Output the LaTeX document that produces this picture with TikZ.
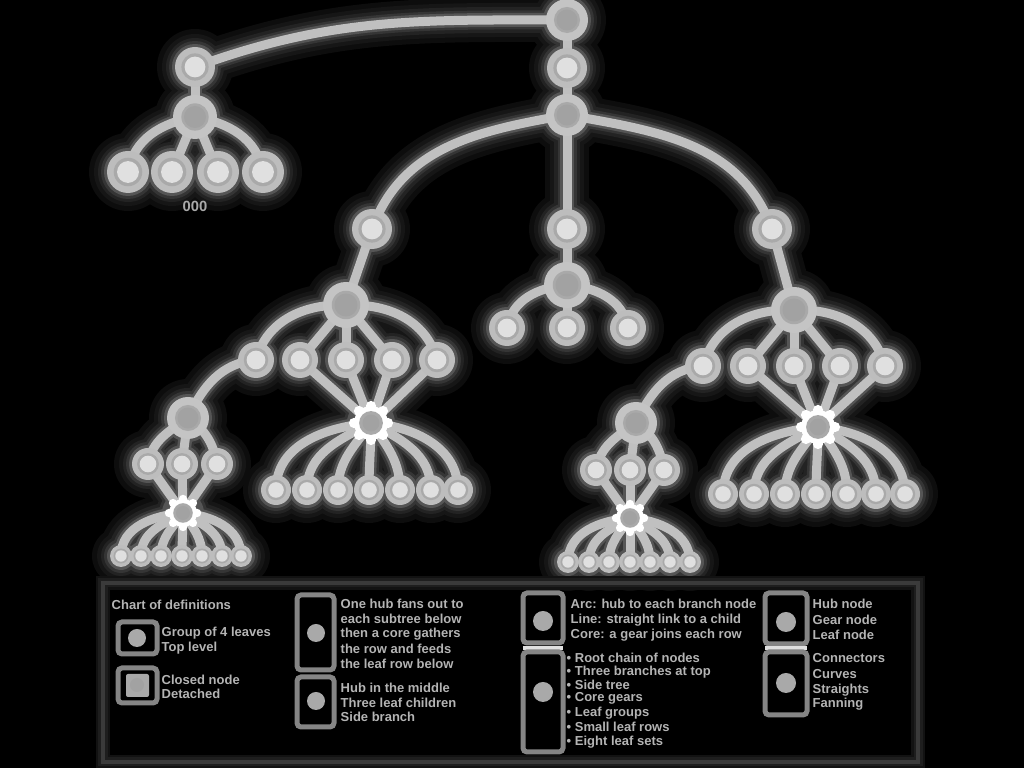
\documentclass[tikz,border=0pt]{standalone}
\usepackage{fontspec}
\setsansfont{Liberation Sans}
\definecolor{edgec}{HTML}{C0C0C0}
\definecolor{nodec}{HTML}{BDBDBD}
\definecolor{ringc}{HTML}{A9A9A9}
\definecolor{cenc}{HTML}{E0E0E0}
\definecolor{hubc}{HTML}{C4C4C4}
\definecolor{hubin}{HTML}{A2A2A2}
\definecolor{legc}{HTML}{3A3A3A}
\definecolor{boxc}{HTML}{858585}
\definecolor{txtc}{HTML}{B4B4B4}
\def\pxu{0.2845pt}
\tikzset{
  e/.style={line width=9*\pxu, draw=edgec, line cap=round},
  lbox/.style={draw=boxc, line width=5*\pxu, rounded corners=4*\pxu, fill=black},
  ltxt/.style={anchor=west, inner sep=0pt, text=txtc, font=\sffamily\bfseries\fontsize{3.7}{4.3}\selectfont},
}
\newcommand\AllEdges{%
  \draw[e] (L1) to[out=20,in=180] (R1);
  \draw[e] (R1) -- (R2) -- (R3);
  \draw[e] (L1) -- (L2);
  \draw[e] (L2) to[out=190,in=80] (T1);
  \draw[e] (L2) -- (T2);
  \draw[e] (L2) -- (T3);
  \draw[e] (L2) to[out=-10,in=100] (T4);
  \draw[e] (R3) to[out=190,in=70] (A);
  \draw[e] (R3) -- (B);
  \draw[e] (R3) to[out=-10,in=110] (C);
  \draw[e] (B) -- (Bh);
  \draw[e] (Bh) to[out=185,in=80] (b1);
  \draw[e] (Bh) -- (b2);
  \draw[e] (Bh) to[out=-5,in=100] (b3);
  % left block
  \draw[e] (A) -- (Ah);
  \draw[e] (Ah) to[out=178,in=75] (a1);
  \draw[e] (Ah) -- (a2);
  \draw[e] (Ah) -- (a3);
  \draw[e] (Ah) -- (a4);
  \draw[e] (Ah) to[out=2,in=105] (a5);
  \foreach \i in {2,...,5} {\draw[e] (a\i) -- (Ag);}
  \foreach \i/\o in {1/185,2/208,3/235,4/270,5/305,6/332,7/355} {\draw[e] (Ag) to[out=\o,in=90] (aL\i);}
  \draw[e] (a1) to[out=185,in=65] (Dh);
  \draw[e] (Dh) to[out=215,in=80] (d1);
  \draw[e] (Dh) -- (d2);
  \draw[e] (Dh) to[out=-35,in=100] (d3);
  \foreach \i in {1,2,3} {\draw[e] (d\i) -- (Dg);}
  \foreach \i/\o in {1/185,2/208,3/235,4/270,5/305,6/332,7/355} {\draw[e] (Dg) to[out=\o,in=90] (dL\i);}
  % right block
  \draw[e] (C) -- (Ch);
  \draw[e] (Ch) to[out=178,in=75] (c1);
  \draw[e] (Ch) -- (c2);
  \draw[e] (Ch) -- (c3);
  \draw[e] (Ch) -- (c4);
  \draw[e] (Ch) to[out=2,in=105] (c5);
  \foreach \i in {2,...,5} {\draw[e] (c\i) -- (Cg);}
  \foreach \i/\o in {1/185,2/208,3/235,4/270,5/305,6/332,7/355} {\draw[e] (Cg) to[out=\o,in=90] (cL\i);}
  \draw[e] (c1) to[out=185,in=65] (Eh);
  \draw[e] (Eh) to[out=215,in=80] (e1);
  \draw[e] (Eh) -- (e2);
  \draw[e] (Eh) to[out=-35,in=100] (e3);
  \foreach \i in {1,2,3} {\draw[e] (e\i) -- (Eg);}
  \foreach \i/\o in {1/185,2/208,3/235,4/270,5/305,6/332,7/355} {\draw[e] (Eg) to[out=\o,in=90] (eL\i);}
}
\def\PlainList{R2/20,L1/20,T1/21,T2/21,T3/21,T4/21,A/20,B/20,C/20,a1/18,a2/18,a3/18,a4/18,a5/18,c1/18,c2/18,c3/18,c4/18,c5/18,b1/18,b2/18,b3/18,d1/16,d2/16,d3/16,e1/16,e2/16,e3/16,aL1/15,aL2/15,aL3/15,aL4/15,aL5/15,aL6/15,aL7/15,cL1/15,cL2/15,cL3/15,cL4/15,cL5/15,cL6/15,cL7/15,dL1/11,dL2/11,dL3/11,dL4/11,dL5/11,dL6/11,dL7/11,eL1/11,eL2/11,eL3/11,eL4/11,eL5/11,eL6/11,eL7/11}
\def\HubList{R1/21,R3/21,L2/22,Ah/23,Bh/23,Ch/23,Dh/21,Eh/21}
\def\GearList{Ag/17,Cg/17,Dg/14,Eg/14}
\begin{document}
\begin{tikzpicture}[x=0.01cm,y=-0.01cm]
\fill[black] (0,0) rectangle (1024,768);
\useasboundingbox (0,0) rectangle (1024,768);
% ---------- coordinates (nodes) ----------
\coordinate (R1) at (567,20);
\coordinate (R2) at (567,68);
\coordinate (R3) at (567,115);
\coordinate (L1) at (195,67);
\coordinate (L2) at (195,117);
\coordinate (T1) at (128,172);
\coordinate (T2) at (172,172);
\coordinate (T3) at (218,172);
\coordinate (T4) at (263,172);
\coordinate (A) at (372,229);
\coordinate (B) at (567,229);
\coordinate (C) at (772,229);
\coordinate (Bh) at (567,285);
\coordinate (b1) at (507,328);
\coordinate (b2) at (567,328);
\coordinate (b3) at (628,328);
\coordinate (Ah) at (346,305);
\foreach \i/\x in {1/256,2/300,3/346,4/392,5/437} {\coordinate (a\i) at (\x,360);}
\coordinate (Ag) at (371,423);
\foreach \i/\x in {1/276,2/307,3/338,4/369,5/400,6/431,7/458} {\coordinate (aL\i) at (\x,490);}
\coordinate (Dh) at (188,418);
\foreach \i/\x in {1/148,2/182,3/217} {\coordinate (d\i) at (\x,464);}
\coordinate (Dg) at (183,513);
\foreach \i/\x in {1/121,2/141,3/161,4/182,5/202,6/222,7/241} {\coordinate (dL\i) at (\x,556);}
\coordinate (Ch) at (794,310);
\foreach \i/\x in {1/703,2/748,3/794,4/840,5/885} {\coordinate (c\i) at (\x,366);}
\coordinate (Cg) at (818,427);
\foreach \i/\x in {1/723,2/754,3/785,4/816,5/847,6/876,7/905} {\coordinate (cL\i) at (\x,494);}
\coordinate (Eh) at (636,423);
\foreach \i/\x in {1/596,2/630,3/664} {\coordinate (e\i) at (\x,470);}
\coordinate (Eg) at (630,518);
\foreach \i/\x in {1/568,2/589,3/609,4/630,5/650,6/670,7/690} {\coordinate (eL\i) at (\x,562);}
% ---------- glow (solid shades, layered) ----------
\foreach \w/\d/\c in {44/18/0D0D0D,34/13/161616,26/9/232323,19/6/353535,14/3/555555} {
  \definecolor{gl}{HTML}{\c}
  \tikzset{e/.style={line width=\w*\pxu, draw=gl, line cap=round}}
  \AllEdges
  \foreach \n/\r in \PlainList {\fill[gl] (\n) circle[radius=\r+\d];}
  \foreach \n/\r in \HubList {\fill[gl] (\n) circle[radius=\r+\d];}
  \foreach \n/\r in \GearList {\fill[gl] (\n) circle[radius=\r+\d+4];}
}
% ---------- connectors ----------
\AllEdges
% ---------- nodes ----------
\foreach \n/\r in \PlainList {
  \fill[nodec] (\n) circle[radius=\r];
  \fill[ringc] (\n) circle[radius=0.68*\r];
  \fill[cenc] (\n) circle[radius=0.52*\r];
}
\foreach \n/\r in \HubList {
  \fill[hubc] (\n) circle[radius=\r];
  \fill[ringc] (\n) circle[radius=0.62*\r];
  \fill[hubin] (\n) circle[radius=0.5*\r];
}
\foreach \n/\r in \GearList {
  \fill[white] (\n) circle[radius=\r];
  \foreach \a in {0,45,...,315} {\fill[white] (\n) ++(\a:\r) circle[radius=0.3*\r];}
  \fill[ringc] (\n) circle[radius=0.7*\r];
  \fill[hubin] (\n) circle[radius=0.5*\r];
}
\node[text=ringc, font=\sffamily\bfseries\fontsize{4.2}{4.2}\selectfont, inner sep=0pt] (dots) at (195,206) {000};
% ---------- legend ----------
\foreach \w/\c in {14/121212,9/1E1E1E} {\definecolor{gl}{HTML}{\c}\draw[gl, line width=\w*\pxu] (103,583) rectangle (918,762);}
\draw[legc, line width=4*\pxu] (103,583) rectangle (918,762);
\node[ltxt] (hd) at (111,605) {Chart of definitions};
% col 1
\draw[lbox] (118,622) rectangle (157,654);
\fill[ringc] (137,638) circle[radius=9];
\node[ltxt] at (161,633) {Group of 4 leaves};
\node[ltxt] at (161,648) {Top level};
\draw[lbox] (118,668) rectangle (157,703);
\fill[ringc, rounded corners=2*\pxu] (126,674) rectangle (149,697);
\fill[hubin] (137,685) circle[radius=7];
\node[ltxt] at (161,680) {Closed node};
\node[ltxt] at (161,694) {Detached};
% col 2
\draw[lbox] (297,595) rectangle (334,670);
\fill[ringc] (316,633) circle[radius=9];
\foreach \y/\t in {604/One hub fans out to,619/each subtree below,634/then a core gathers,649/the row and feeds,664/the leaf row below} {\node[ltxt] at (340,\y) {\t};}
\draw[lbox] (297,677) rectangle (334,727);
\fill[ringc] (316,701) circle[radius=9];
\foreach \y/\t in {688/Hub in the middle,703/Three leaf children,717/Side branch} {\node[ltxt] at (340,\y) {\t};}
% col 3
\draw[lbox] (523,593) rectangle (563,643);
\fill[ringc] (543,621) circle[radius=10];
\foreach \y/\t in {604/Arc: hub to each branch node,620/Line: straight link to a child,635/Core: a gear joins each row} {\node[ltxt] at (570,\y) {\t};}
\draw[cenc, line width=4*\pxu] (523,648) -- (563,648);
\draw[lbox] (523,652) rectangle (563,752);
\fill[ringc] (543,692) circle[radius=10];
\foreach \y/\t in {658/{• Root chain of nodes},672/{• Three branches at top},685/{• Side tree},698/{• Core gears},713/{• Leaf groups},727/{• Small leaf rows},742/{• Eight leaf sets}} {\node[ltxt] at (566,\y) {\t};}
% col 4
\draw[lbox] (765,593) rectangle (807,644);
\fill[ringc] (786,622) circle[radius=10];
\foreach \y/\t in {604/Hub node,620/Gear node,635/Leaf node} {\node[ltxt] at (812,\y) {\t};}
\draw[cenc, line width=4*\pxu] (765,648) -- (807,648);
\draw[lbox] (765,652) rectangle (807,715);
\fill[ringc] (786,683) circle[radius=10];
\foreach \y/\t in {658/Connectors,674/Curves,690/Straights,704/Fanning} {\node[ltxt] at (812,\y) {\t};}
\end{tikzpicture}
\end{document}
